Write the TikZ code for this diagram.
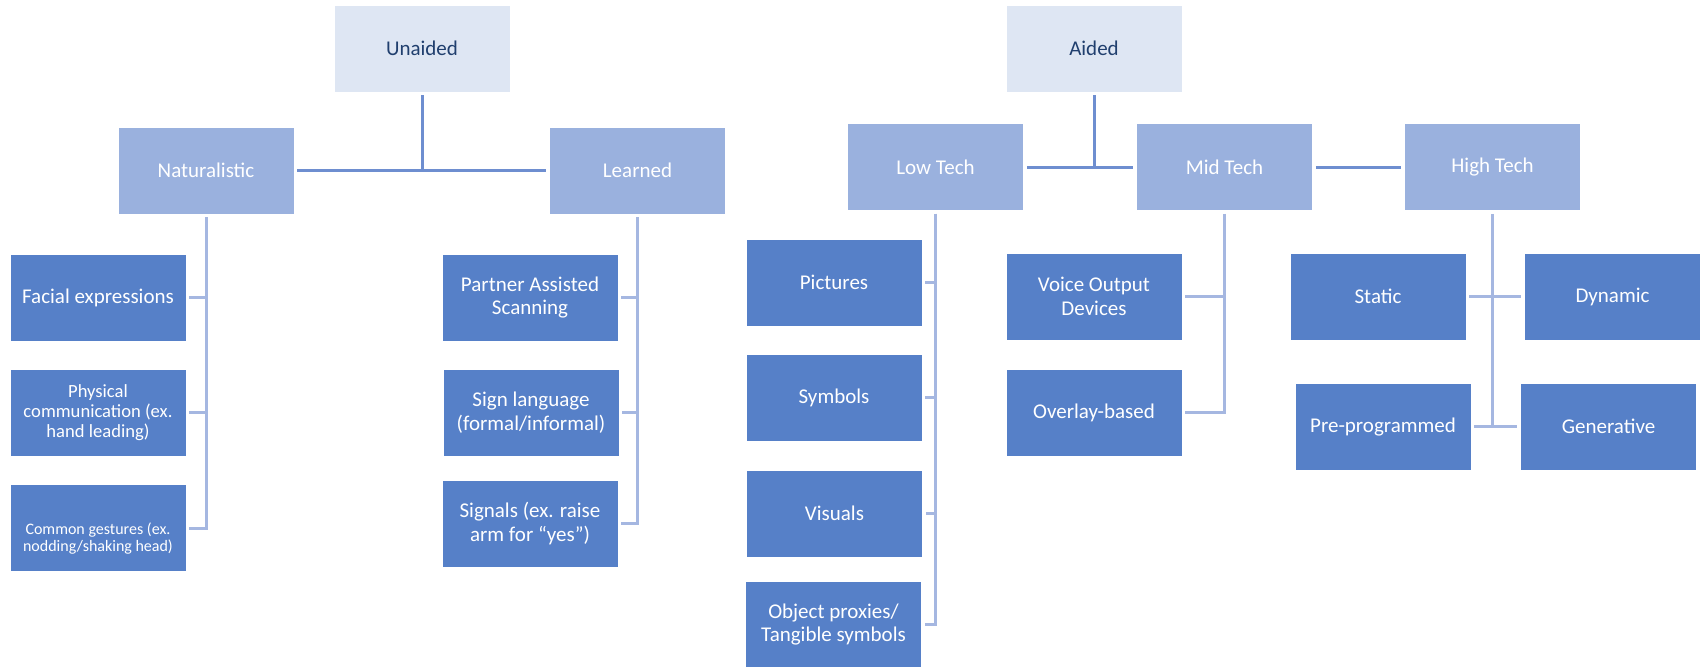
\documentclass[tikz,border=0pt]{standalone}
\usepackage{fontspec}
\setmainfont{Carlito}
\usetikzlibrary{arrows}
\definecolor{topfill}{HTML}{DEE6F3}
\definecolor{toptext}{HTML}{203F6E}
\definecolor{midfill}{HTML}{9AB1DE}
\definecolor{leaffill}{HTML}{5680C8}
\definecolor{linkdark}{HTML}{6E8ED0}
\definecolor{linklight}{HTML}{A5B7E1}
\begin{document}
\begin{tikzpicture}[x=0.5pt,y=-0.5pt,
    box/.style={rectangle,draw=white,line width=0.4pt,minimum width=88pt,minimum height=43.5pt,
      inner sep=1pt,align=center,font=\fontsize{10.5}{11.7}\selectfont},
    head/.style={box,fill=topfill,text=toptext},
    group/.style={box,fill=midfill,text=white},
    leaf/.style={box,fill=leaffill,text=white},
    link/.style={draw=linkdark,line width=1.5pt,shorten <=1.5pt},
    branch/.style={draw=linklight,line width=1.5pt,shorten <=1.5pt,shorten >=1.5pt}]
  \useasboundingbox (0,0) rectangle (1700,666);
  \node[head](una) at (422,48.5){Unaided};
  \node[head](aid) at (1094,48.5){Aided};
  \node[group](nat) at (206,170.5){Naturalistic};
  \node[group](lrn) at (637.5,170.5){Learned};
  \node[group](low) at (935.5,167){Low Tech};
  \node[group](mid) at (1224.5,167){Mid Tech};
  \node[group](high) at (1492.5,167){High Tech};
  \node[leaf](face) at (98,297.5){Facial expressions};
  \node[leaf,font=\fontsize{9.3}{10}\selectfont](phys) at (98,412.5){Physical\\communication (ex.\\hand leading)};
  \node[leaf,font=\fontsize{8}{8.4}\selectfont](gest) at (98,528){\rule{0pt}{16pt}Common gestures (ex.\\nodding/shaking head)};
  \node[leaf](pas) at (530,297.5){Partner Assisted\\Scanning};
  \node[leaf](sign) at (531,412.5){Sign language\\(formal/informal)};
  \node[leaf](sig) at (530,523.5){Signals (ex. raise\\arm for “yes”)};
  \node[leaf](pic) at (834,282.5){Pictures};
  \node[leaf](sym) at (834,397.5){Symbols};
  \node[leaf](vis) at (834.5,513.5){Visuals};
  \node[leaf](obj) at (833.5,624.5){Object proxies/\\Tangible symbols};
  \node[leaf](voice) at (1094,296.5){Voice Output\\Devices};
  \node[leaf](over) at (1094,412.5){Overlay-based};
  \node[leaf](stat) at (1378,296.5){Static};
  \node[leaf](dyn) at (1612.5,296.5){Dynamic};
  \node[leaf](pre) at (1383,426.5){Pre-programmed};
  \node[leaf](gen) at (1608.5,426.5){Generative};
  \draw[link] (una) -- (una |- nat);
  \draw[link,shorten >=1.5pt] (nat) -- (lrn);
  \draw[link] (aid) -- (aid |- low);
  \draw[link,shorten >=1.5pt] (low) -- (mid);
  \draw[link,shorten >=1.5pt] (mid) -- (high);
  \foreach \n in {face,phys,gest} \draw[branch] (nat) |- (\n);
  \foreach \n in {pas,sign,sig} \draw[branch] (lrn) |- (\n);
  \foreach \n in {pic,sym,vis,obj} \draw[branch] (low) |- (\n);
  \foreach \n in {voice,over} \draw[branch] (mid) |- (\n);
  \draw[branch,shorten >=0pt] (high) -- (high |- pre);
  \draw[branch] (stat) -- (dyn);
  \draw[branch] (pre) -- (gen);
\end{tikzpicture}
\end{document}
